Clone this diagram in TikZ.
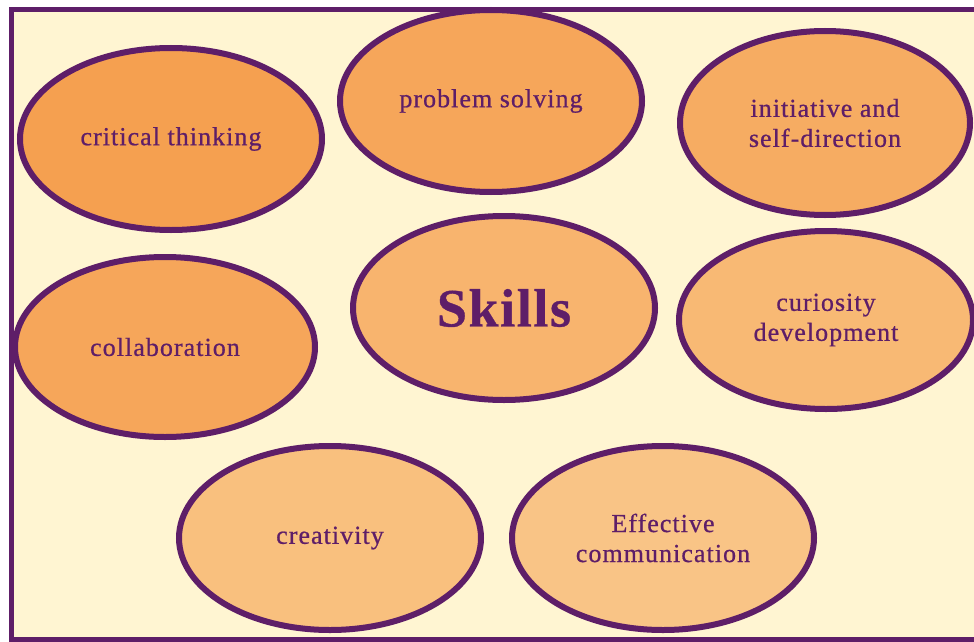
\documentclass[tikz,border=0pt]{standalone}
\usepackage{fontspec}
\setmainfont{Liberation Serif}
\usepackage{tikz}
\usetikzlibrary{shapes.geometric}

\definecolor{skpurple}{RGB}{94,30,104}
\definecolor{skcream}{RGB}{255,245,210}
\definecolor{skorangeA}{RGB}{245,160,80}
\definecolor{skorangeB}{RGB}{246,166,90}
\definecolor{skorangeC}{RGB}{246,172,98}
\definecolor{skorangeD}{RGB}{248,180,110}
\definecolor{skorangeE}{RGB}{248,185,116}
\definecolor{skorangeF}{RGB}{249,192,126}
\definecolor{skorangeG}{RGB}{249,196,134}

\begin{document}
\begin{tikzpicture}[x=1pt,y=-1pt,
        bubble/.style={ellipse,draw=skpurple,line width=6pt,text=skpurple,inner sep=0pt,
                minimum width=302pt,minimum height=182pt,align=center,
                font=\fontsize{26}{30}\selectfont\addfontfeatures{LetterSpace=4,FakeBold=0.7}}]
                \useasboundingbox (0,0) rectangle (974,642);
                \clip (0,0) rectangle (974,642);
                \fill[white] (0,0) rectangle (974,642);
                \draw[skpurple,line width=5pt,fill=skcream] (11.5,10) rectangle (1000,639);

                \node[bubble,fill=skorangeA] (critical) at (171,139){critical thinking};
                \node[bubble,fill=skorangeB] (problem) at (491,101){problem solving};
                \node[bubble,fill=skorangeC,minimum width=290pt,minimum height=184pt] (initiative) at (825,123){initiative and\\self-direction};
                \node[bubble,fill=skorangeB,minimum width=300pt,minimum height=180pt] (collab) at (165,347){collaboration};
                \node[bubble,fill=skorangeD,minimum height=184pt] (skills) at (504,308){\fontsize{54}{54}\selectfont\bfseries\addfontfeatures{LetterSpace=3}Skills};
                \node[bubble,fill=skorangeE,minimum width=294pt,minimum height=178pt] (curiosity) at (826,320){curiosity\\development};
                \node[bubble,fill=skorangeF,minimum height=184pt] (creativity) at (330,538){creativity};
                \node[bubble,fill=skorangeG,minimum height=184pt] (effective) at (663,538){Effective\\communication};
        \end{tikzpicture}
\end{document}
